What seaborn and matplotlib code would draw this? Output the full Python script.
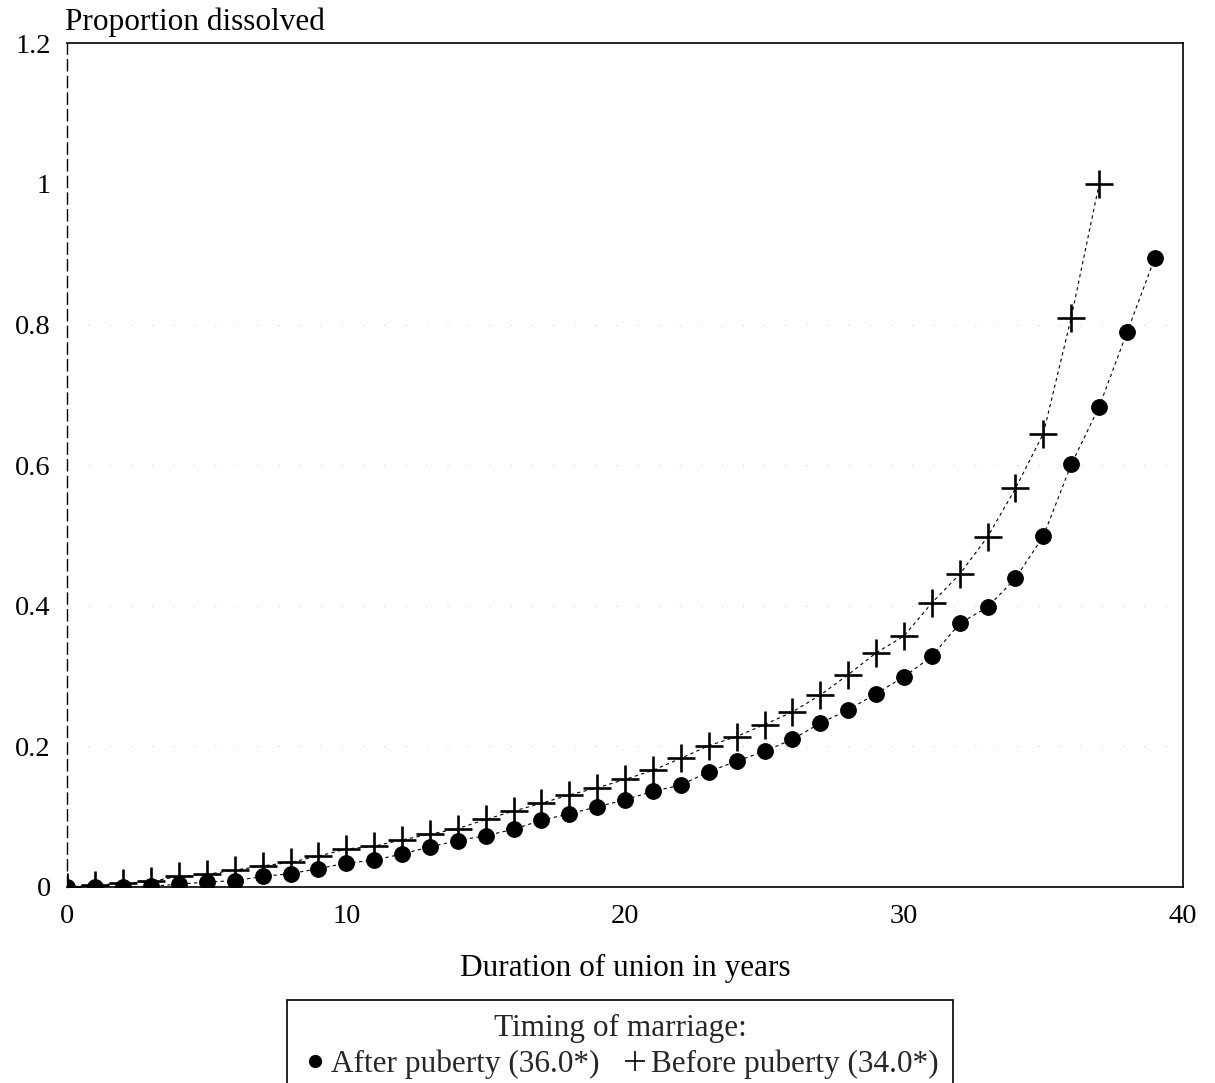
import numpy as np
import pandas as pd
import matplotlib
matplotlib.use("Agg")
import matplotlib.pyplot as plt
from matplotlib.lines import Line2D
import seaborn as sns

# Proportion of unions dissolved by duration, by timing of marriage
years_after = list(range(0, 40))
after_puberty = [0, 0, 0, 0.001, 0.004, 0.007, 0.009, 0.015, 0.019, 0.026,
                 0.034, 0.038, 0.047, 0.057, 0.066, 0.073, 0.082, 0.095, 0.104, 0.114,
                 0.124, 0.136, 0.145, 0.164, 0.179, 0.193, 0.210, 0.233, 0.252, 0.275,
                 0.299, 0.328, 0.375, 0.398, 0.439, 0.499, 0.601, 0.683, 0.789, 0.895]

years_before = list(range(0, 38))
before_puberty = [0, 0.003, 0.005, 0.008, 0.015, 0.018, 0.024, 0.030, 0.035, 0.044,
                  0.054, 0.058, 0.067, 0.075, 0.083, 0.096, 0.108, 0.119, 0.131, 0.141,
                  0.153, 0.166, 0.183, 0.201, 0.214, 0.231, 0.249, 0.273, 0.302, 0.333,
                  0.357, 0.404, 0.445, 0.498, 0.567, 0.645, 0.810, 1.000]

label_after = "After puberty (36.0*)"
label_before = "Before puberty (34.0*)"
legend_title = "Timing of marriage:"
x_ticks = [0, 10, 20, 30, 40]
y_ticks = [0, 0.2, 0.4, 0.6, 0.8, 1.0, 1.2]
y_tick_labels = ["0", "0.2", "0.4", "0.6", "0.8", "1", "1.2"]

df_after = pd.DataFrame({"duration": years_after, "prop": after_puberty})
df_before = pd.DataFrame({"duration": years_before, "prop": before_puberty})

sns.set_theme(style="white")
plt.rcParams["font.family"] = ["Liberation Serif", "DejaVu Serif"]

fig = plt.figure(figsize=(12.15, 10.83), dpi=100)
ax = fig.add_axes([0.0555, 0.181, 0.918, 0.779])

# faint horizontal guides
for yv in [0.2, 0.4, 0.6, 0.8]:
    ax.axhline(yv, color="#d0d0d0", lw=0.8, ls=(0, (1, 18)), zorder=0)

sns.lineplot(data=df_after, x="duration", y="prop", ax=ax, color="black",
             lw=0.8, ls=(0, (3, 3)), marker="o", markersize=11.3,
             markeredgecolor="black", markerfacecolor="black", zorder=3)
sns.lineplot(data=df_before, x="duration", y="prop", ax=ax, color="black",
             lw=0.8, ls=(0, (3, 3)), marker="+", markersize=20,
             markeredgecolor="black", markeredgewidth=1.9, zorder=4)

ax.set_xlim(0, 40)
ax.set_ylim(0, 1.2)
ax.set_xticks(x_ticks)
ax.set_xticklabels([str(t) for t in x_ticks])
ax.set_yticks(y_ticks)
ax.set_yticklabels(y_tick_labels)
ax.tick_params(axis="both", length=0, labelsize=20.5, colors="black")
ax.tick_params(axis="x", pad=12)
ax.tick_params(axis="y", pad=12)
ax.set_ylabel("")
ax.set_xlabel("Duration of union in years", fontsize=22.5, labelpad=18, color="black")

for side in ["top", "right", "bottom"]:
    ax.spines[side].set_visible(True)
    ax.spines[side].set_color("black")
    ax.spines[side].set_linewidth(1.2)
ax.spines["left"].set_color("black")
ax.spines["left"].set_linewidth(1.0)
ax.spines["left"].set_linestyle((0, (8, 4)))

fig.text(65 / 1215, 1 - 22 / 1083, "Proportion dissolved", fontsize=22.5,
         ha="left", va="center", color="black")

handles = [
    Line2D([], [], ls="none", marker="o", color="black", markersize=8.5),
    Line2D([], [], ls="none", marker="+", color="black", markersize=15,
           markeredgewidth=1.2),
]
leg = fig.legend(handles, [label_after, label_before], title=legend_title,
                 ncol=2, loc="upper center", bbox_to_anchor=(620 / 1215, 1 - 1000 / 1083),
                 fontsize=22.5, title_fontsize=22.5, frameon=True, fancybox=False,
                 edgecolor="black", framealpha=1, handletextpad=0.05,
                 columnspacing=0.7, handlelength=0.9, borderpad=0.45,
                 borderaxespad=0, labelspacing=0.2)
leg.get_frame().set_linewidth(1.2)

fig.savefig("out.png", dpi=100)
